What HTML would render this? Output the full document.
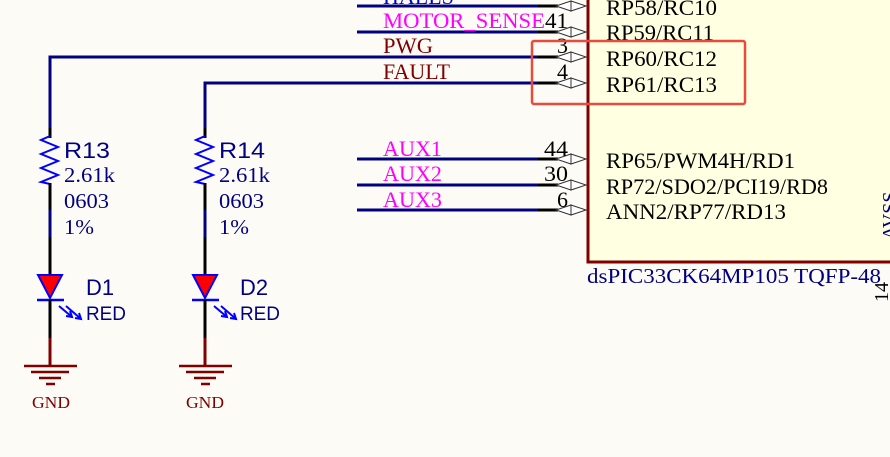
<!DOCTYPE html>
<html><head><meta charset="utf-8"><style>
html,body{margin:0;padding:0;background:#fdfbf6;}
svg{display:block}
.s{font-family:"Liberation Serif",serif;}
.a{font-family:"Liberation Sans",sans-serif;}
</style></head><body>
<svg width="890" height="457" viewBox="0 0 890 457" xmlns="http://www.w3.org/2000/svg">
<rect width="890" height="457" fill="#fdfbf6"/>
<rect x="588" y="-5" width="310" height="267" fill="#ffffe1" stroke="#800000" stroke-width="3"/>
<g stroke="#000080" stroke-width="3" fill="none">
<line x1="357" y1="6" x2="540" y2="6"/>
<line x1="357" y1="32" x2="540" y2="32"/>
<polyline points="50,130 50,57 540,57"/>
<polyline points="205,130 205,83 540,83"/>
<line x1="357" y1="159" x2="540" y2="159"/>
<line x1="357" y1="185" x2="540" y2="185"/>
<line x1="357" y1="210" x2="540" y2="210"/>
</g>
<g stroke="#000" stroke-width="3">
<line x1="538" y1="6" x2="558" y2="6"/><line x1="538" y1="32" x2="558" y2="32"/>
<line x1="538" y1="57" x2="558" y2="57"/><line x1="538" y1="83" x2="558" y2="83"/>
<line x1="538" y1="159" x2="558" y2="159"/><line x1="538" y1="185" x2="558" y2="185"/>
<line x1="538" y1="210" x2="558" y2="210"/>
</g>
<defs><g id="p"><polygon points="556,0 571,-5 571,5"/><polygon points="571,-5 586,0 571,5"/></g></defs>
<g fill="#fff" stroke="#333" stroke-width="1">
<use href="#p" y="6"/><use href="#p" y="32"/><use href="#p" y="57"/><use href="#p" y="83"/>
<use href="#p" y="159"/><use href="#p" y="185"/><use href="#p" y="210"/>
</g>
<g class="s" font-size="22" fill="#000">
<text x="545" y="28" textLength="23" lengthAdjust="spacingAndGlyphs">41</text>
<text x="557" y="53">3</text>
<text x="557" y="79">4</text>
<text x="544" y="156" textLength="24" lengthAdjust="spacingAndGlyphs">44</text>
<text x="544" y="181" textLength="24" lengthAdjust="spacingAndGlyphs">30</text>
<text x="557" y="207">6</text>
</g>
<g class="s" font-size="22">
<text x="383" y="4" fill="#0000cc">HALLS</text>
<text x="383" y="28" fill="#ff00ff" textLength="162" lengthAdjust="spacingAndGlyphs">MOTOR_SENSE</text>
<text x="383" y="53" fill="#800000" textLength="50" lengthAdjust="spacingAndGlyphs">PWG</text>
<text x="383" y="79" fill="#800000" textLength="67" lengthAdjust="spacingAndGlyphs">FAULT</text>
<text x="383" y="156" fill="#ff00ff" textLength="59" lengthAdjust="spacingAndGlyphs">AUX1</text>
<text x="383" y="181" fill="#ff00ff" textLength="59" lengthAdjust="spacingAndGlyphs">AUX2</text>
<text x="383" y="207" fill="#ff00ff" textLength="59" lengthAdjust="spacingAndGlyphs">AUX3</text>
</g>
<g class="s" font-size="22" fill="#000" lengthAdjust="spacingAndGlyphs">
<text x="606" y="15" textLength="111" lengthAdjust="spacingAndGlyphs">RP58/RC10</text>
<text x="606" y="40" textLength="108" lengthAdjust="spacingAndGlyphs">RP59/RC11</text>
<text x="606" y="66" textLength="111" lengthAdjust="spacingAndGlyphs">RP60/RC12</text>
<text x="606" y="92" textLength="111" lengthAdjust="spacingAndGlyphs">RP61/RC13</text>
<text x="606" y="168" textLength="189" lengthAdjust="spacingAndGlyphs">RP65/PWM4H/RD1</text>
<text x="606" y="194" textLength="222" lengthAdjust="spacingAndGlyphs">RP72/SDO2/PCI19/RD8</text>
<text x="606" y="219" textLength="180" lengthAdjust="spacingAndGlyphs">ANN2/RP77/RD13</text>
</g>
<text class="s" x="587" y="283" font-size="21" fill="#000080" textLength="294" lengthAdjust="spacingAndGlyphs">dsPIC33CK64MP105 TQFP-48</text>
<text class="s" font-size="20" fill="#000" transform="translate(888,302) rotate(-90)">14</text>
<text class="s" font-size="20" fill="#000080" transform="translate(896,240) rotate(-90)">AVSS</text>
<rect x="532" y="41" width="213" height="63" fill="none" stroke="#e84a3c" stroke-width="2.5" rx="2"/>
<g id="br">
<line x1="50" y1="128" x2="50" y2="138" stroke="#000" stroke-width="3"/>
<polyline points="50,136 41,140 58,147 41,154 58,161 41,168 58,175 41,182 50,184" fill="none" stroke="#0000ff" stroke-width="2"/>
<line x1="50" y1="183" x2="50" y2="210" stroke="#000" stroke-width="3"/>
<line x1="50" y1="210" x2="50" y2="237" stroke="#000080" stroke-width="3"/>
<line x1="50" y1="237" x2="50" y2="275" stroke="#000" stroke-width="3"/>
<polygon points="38,275 62,275 50,298" fill="#ff0000" stroke="#0000ff" stroke-width="2"/>
<line x1="37" y1="300" x2="64" y2="300" stroke="#0000ff" stroke-width="2.5"/>
<line x1="50" y1="300" x2="50" y2="338" stroke="#000" stroke-width="3"/>
<line x1="50" y1="338" x2="50" y2="366" stroke="#800000" stroke-width="3"/>
<g stroke="#0000ff" stroke-width="2" fill="none">
<line x1="59" y1="306" x2="72" y2="317"/><polyline points="66,316 72,317 70,311"/>
<line x1="66" y1="306" x2="81" y2="319"/><polyline points="75,318 81,319 79,313"/>
</g>
<g stroke="#800000" stroke-width="2.5">
<line x1="24" y1="366" x2="77" y2="366"/>
<line x1="31" y1="372" x2="69" y2="372"/>
<line x1="39" y1="378" x2="61" y2="378"/>
<line x1="46" y1="384" x2="55" y2="384"/>
</g>
</g>
<use href="#br" x="155"/>
<g class="a" font-size="22" fill="#000080">
<text x="64" y="158" textLength="46" lengthAdjust="spacingAndGlyphs">R13</text><text x="219" y="158" textLength="46" lengthAdjust="spacingAndGlyphs">R14</text>
<text x="86" y="295" textLength="28" lengthAdjust="spacingAndGlyphs">D1</text><text x="240" y="295" textLength="28" lengthAdjust="spacingAndGlyphs">D2</text>
</g>
<g class="a" font-size="19" fill="#000080">
<text x="86" y="320" textLength="40" lengthAdjust="spacingAndGlyphs">RED</text><text x="240" y="320" textLength="40" lengthAdjust="spacingAndGlyphs">RED</text>
</g>
<g class="s" font-size="21" fill="#000080">
<text x="64" y="182" textLength="51" lengthAdjust="spacingAndGlyphs">2.61k</text><text x="219" y="182" textLength="51" lengthAdjust="spacingAndGlyphs">2.61k</text>
<text x="64" y="208" textLength="45" lengthAdjust="spacingAndGlyphs">0603</text><text x="219" y="208" textLength="45" lengthAdjust="spacingAndGlyphs">0603</text>
<text x="64" y="234" textLength="30" lengthAdjust="spacingAndGlyphs">1%</text><text x="219" y="234" textLength="30" lengthAdjust="spacingAndGlyphs">1%</text>
</g>
<g class="s" font-size="17" fill="#800000">
<text x="32" y="408" textLength="38" lengthAdjust="spacingAndGlyphs">GND</text><text x="186" y="408" textLength="38" lengthAdjust="spacingAndGlyphs">GND</text>
</g>
</svg>
</body></html>
